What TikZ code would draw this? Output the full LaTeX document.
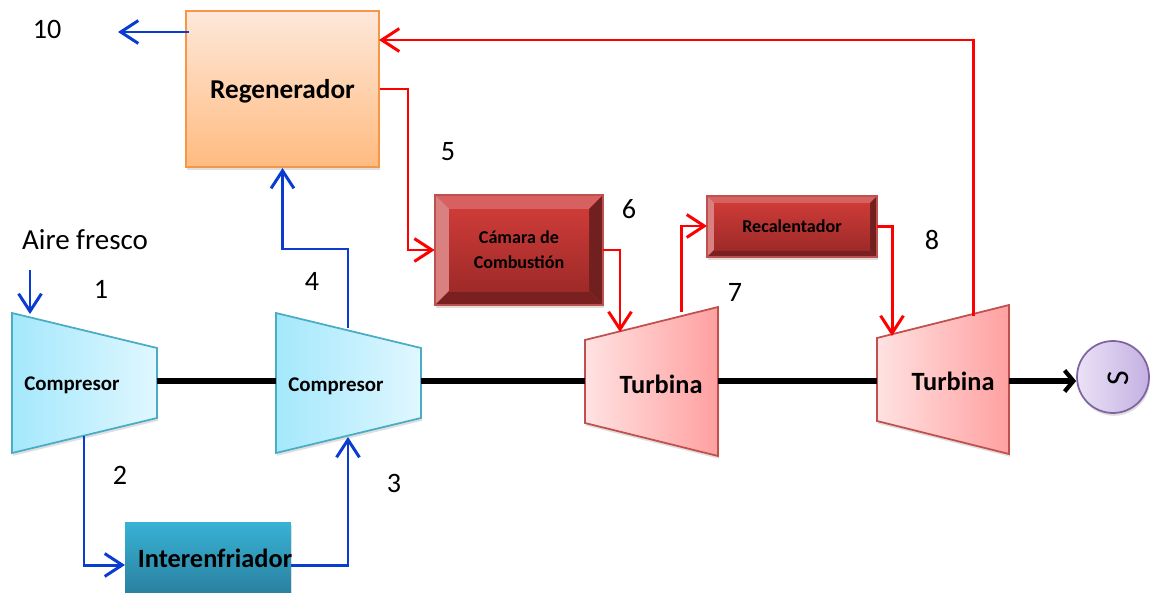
\documentclass[tikz,border=0pt]{standalone}
\usepackage{fontspec}
\setmainfont{Carlito}
\usetikzlibrary{arrows.meta,shadows}

\definecolor{compdraw}{HTML}{4BACC6}
\definecolor{turbdraw}{HTML}{C0504D}
\definecolor{flowblue}{HTML}{0A3CD2}

\tikzset{
  softshadow/.style={drop shadow={shadow xshift=.6pt,shadow yshift=-1.6pt,opacity=.25}},
  bluearrow/.style={draw=flowblue,line width=1.7pt,-{Straight Barb[length=10pt,width=13pt,line width=1.7pt]}},
  redarrow/.style={draw=red,line width=1.7pt,-{Straight Barb[length=10pt,width=13pt,line width=1.7pt]}},
  shaft/.style={draw=black,line width=3.4pt},
  tag/.style={font=\fontsize{16}{16}\selectfont,inner sep=0pt},
  namesmall/.style={font=\fontsize{11.9}{14}\selectfont\bfseries,inner sep=0pt,align=center},
  namemid/.style={font=\fontsize{10.3}{14}\selectfont\bfseries,inner sep=0pt,align=center},
  namebig/.style={font=\fontsize{15}{18}\selectfont\bfseries,inner sep=0pt,align=center},
}

% outer corners, then bevel depth
\newcommand{\bevelbox}[5]{
  \fill[softshadow,fill=turbdraw] (#1,#2) rectangle (#3,#4);
  \fill[fill={rgb,255:red,215;green,96;blue,96}] (#1,#2) -- (#3,#2) -- (#3-#5,#2+#5) -- (#1+#5,#2+#5) -- cycle;
  \fill[fill={rgb,255:red,217;green,128;blue,128}] (#1,#2) -- (#1+#5,#2+#5) -- (#1+#5,#4-#5) -- (#1,#4) -- cycle;
  \fill[fill={rgb,255:red,112;green,32;blue,30}] (#3,#2) -- (#3,#4) -- (#3-#5,#4-#5) -- (#3-#5,#2+#5) -- cycle;
  \fill[fill={rgb,255:red,122;green,32;blue,32}] (#1,#4) -- (#3,#4) -- (#3-#5,#4-#5) -- (#1+#5,#4-#5) -- cycle;
  \shade[top color={rgb,255:red,205;green,59;blue,56},bottom color={rgb,255:red,158;green,42;blue,40}] (#1+#5,#2+#5) rectangle (#3-#5,#4-#5);
  \draw[turbdraw,line width=.8pt] (#1,#2) rectangle (#3,#4);
}

\begin{document}
\begin{tikzpicture}[x=0.02cm,y=-0.02cm]
  \useasboundingbox (0,0) rectangle (1150,592);

  % compresores
  \foreach \x/\nm in {12/compa,276/compb} {
    \draw[softshadow,draw=compdraw,line width=1pt,left color={rgb,255:red,164;green,232;blue,252},right color={rgb,255:red,224;green,247;blue,255}]
      (\x,313) -- (\x+145,348) -- (\x+145,418) -- (\x,453) -- cycle;
    \coordinate (\nm l) at (\x,381);
    \coordinate (\nm r) at (\x+145,381);
  }
  % turbinas
  \foreach \x/\y/\w/\nm in {585/0/133/turba,877/-2/132/turbb} {
    \draw[softshadow,draw=turbdraw,line width=1pt,left color={rgb,255:red,255;green,226;blue,226},right color={rgb,255:red,255;green,160;blue,160}]
      (\x,340+\y) -- (\x+\w,307+\y) -- (\x+\w,456+\y) -- (\x,423+\y) -- cycle;
    \coordinate (\nm l) at (\x,381);
    \coordinate (\nm r) at (\x+\w,381);
  }

  \node[namesmall] (companame) at (72,385) {Compresor};
  \node[namesmall] (compbname) at (336,386) {Compresor};
  \node[namebig] (turbaname) at (661,384) {Turbina};
  \node[namebig] (turbbname) at (953,381) {Turbina};

  \node[softshadow,draw={rgb,255:red,247;green,150;blue,70},line width=1.2pt,top color={rgb,255:red,254;green,232;blue,218},bottom color={rgb,255:red,255;green,187;blue,128},
    minimum width=3.86cm,minimum height=3.12cm] (regen) at (282.5,89) {};
  \node[namebig,font=\fontsize{15.5}{18}\selectfont\bfseries] (regenname) at (282.5,91) {Regenerador};
  \node[softshadow,draw=none,top color={rgb,255:red,56;green,178;blue,212},bottom color={rgb,255:red,42;green,128;blue,160},
    minimum width=3.32cm,minimum height=1.44cm] (inter) at (208,558) {};
  \node[namebig] (intername) at (215,558) {Interenfriador};
  \bevelbox{435}{195}{603}{305}{14}
  \node[namemid,minimum width=3.36cm,minimum height=2.2cm] (camara) at (519,250) {Cámara de\\Combustión};
  \bevelbox{707}{196}{877}{257}{7}
  \node[namemid,minimum width=3.4cm,minimum height=1.22cm] (recal) at (792,226.5) {Recalentador};
  \node[softshadow,circle,draw={rgb,255:red,128;green,100;blue,162},line width=1pt,left color={rgb,255:red,234;green,226;blue,246},right color={rgb,255:red,196;green,176;blue,226},
    minimum size=1.44cm,inner sep=0pt] (motor) at (1113,377) {};
  \node[tag,font=\fontsize{18}{18}\selectfont,rotate=90] (motorname) at (1118,378) {S};

  % puntos de conexion
  \coordinate (airein) at (30,270);
  \coordinate (compain) at (30,314);
  \coordinate (compaout) at (84,436);
  \coordinate (interin) at (125,565);
  \coordinate (interout) at (291,565);
  \coordinate (compbin) at (348,437);
  \coordinate (compbout) at (348,328);
  \coordinate (regenout) at (189,32);
  \coordinate (escape) at (118,32);
  \coordinate (turbain) at (620,332);
  \coordinate (turbaout) at (681,312);
  \coordinate (recalin) at (707,226);
  \coordinate (turbbin) at (892,336);
  \coordinate (turbbout) at (973,316);
  \coordinate (regenin) at (379,40);

  \draw[shaft] (compar) -- (compbl);
  \draw[shaft] (compbr) -- (turbal);
  \draw[shaft] (turbar) -- (turbbl);
  \draw[shaft,-{Straight Barb[length=5pt,width=12pt,line width=2.4pt]}] (turbbr) -- (turbbr -| motor.west);

  \draw[bluearrow] (airein) -- (compain);
  \draw[bluearrow] (compaout) |- (interin);
  \draw[bluearrow] (interout) -| (compbin);
  \draw[bluearrow] (compbout) -- (348,249) -| (regen.south);
  \draw[bluearrow] (regenout) -- (escape);

  \draw[redarrow] (regen.east) -- (408,89) |- (camara.west);
  \draw[redarrow] (camara.east) -| (turbain);
  \draw[redarrow] (turbaout) |- (recalin);
  \draw[redarrow] (recal.east) -| (turbbin);
  \draw[redarrow] (turbbout) |- (regenin);

  \node[tag] (n10) at (47,29) {10};
  \node[tag,font=\fontsize{16.5}{16.5}\selectfont] (aire) at (85,240) {Aire fresco};
  \node[tag] (n1) at (101,289) {1};
  \node[tag] (n2) at (120,475) {2};
  \node[tag] (n3) at (394,483) {3};
  \node[tag] (n4) at (312,281) {4};
  \node[tag] (n5) at (448,152) {5};
  \node[tag] (n6) at (629,209) {6};
  \node[tag] (n7) at (735,292) {7};
  \node[tag] (n8) at (932,240) {8};
\end{tikzpicture}
\end{document}
